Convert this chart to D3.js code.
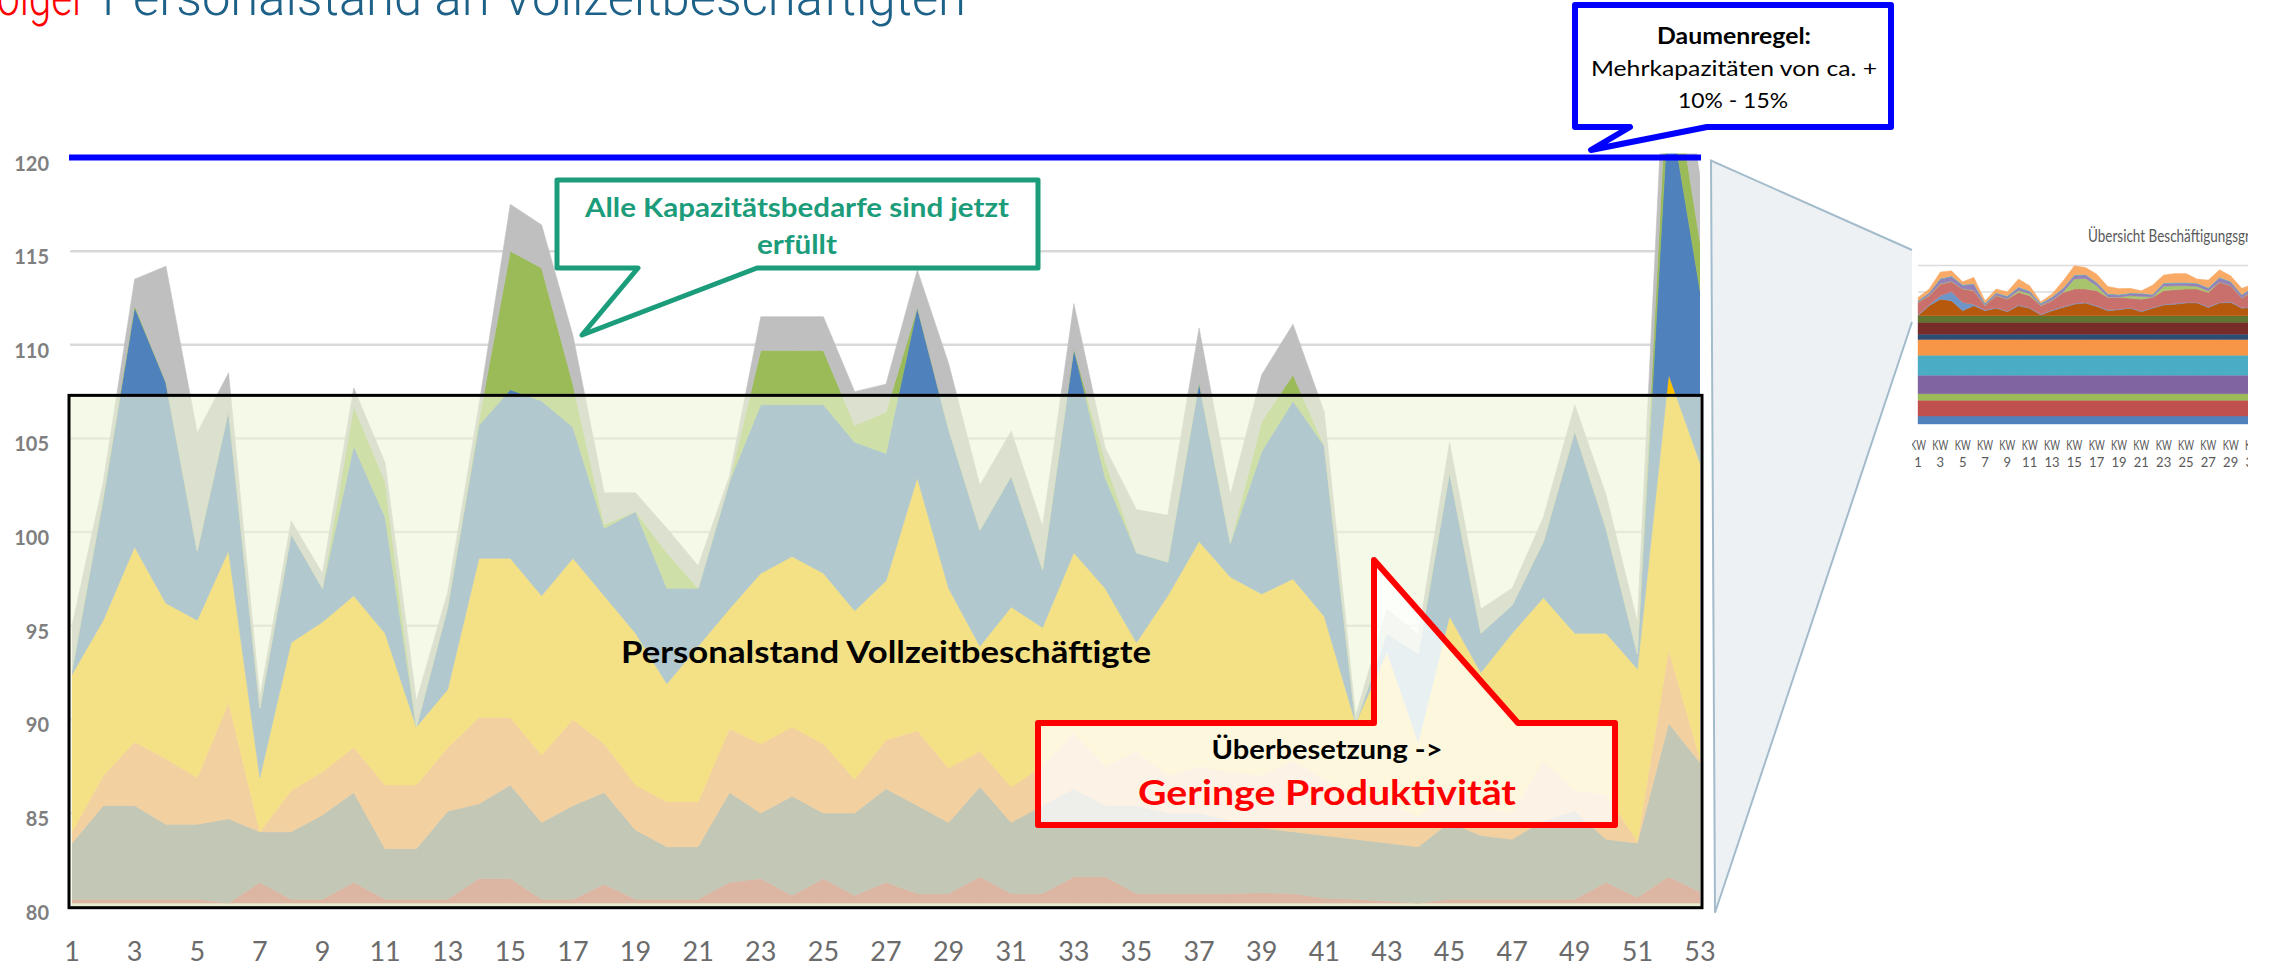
<!DOCTYPE html>
<html>
<head>
<meta charset="utf-8">
<script src="https://cdn.jsdelivr.net/npm/d3@7"></script>
<style>
  html, body { margin: 0; padding: 0; background: #fff; overflow: hidden; }
  svg { display: block; }
</style>
</head>
<body>
<svg id="chart"></svg>
<script>
// ---- main chart data ----
const weeks = [1,2,3,4,5,6,7,8,9,10,11,12,13,14,15,16,17,18,19,20,21,22,23,24,25,26,27,
  28,29,30,31,32,33,34,35,36,37,38,39,40,41,42,43,44,45,46,47,48,49,50,51,52,53];
const xTickWeeks = [1,3,5,7,9,11,13,15,17,19,21,23,25,27,29,31,33,35,37,39,41,43,45,47,49,51,53];
const yTicks = [80,85,90,95,100,105,110,115,120];
const gridValues = [85,90,95,100,105,110,115];

const sockel = [80.2,80.2,80.2,80.2,80.2,80.2,80.2,80.2,80.2,80.2,80.2,80.2,80.2,80.2,80.2,80.2,80.2,80.2,
  80.2,80.2,80.2,80.2,80.2,80.2,80.2,80.2,80.2,80.2,80.2,80.2,80.2,80.2,80.2,80.2,80.2,80.2,80.2,80.2,80.2,
  80.2,80.2,80.2,80.2,80.2,80.2,80.2,80.2,80.2,80.2,80.2,80.2,80.2,80.2];
const rot = [0.2,0.2,0.2,0.2,0.2,0.0,1.1,0.2,0.2,1.1, 0.2,0.2,0.2,1.3,1.3,0.2,0.2,1.0,0.2,0.2,
  0.2,1.1,1.3,0.4,1.3,0.4,1.1,0.5,0.5,1.4, 0.5,0.5,1.4,1.4,0.5,0.5,0.5,0.5,0.55,0.5,
  0.25,0.2,0.1,0.0,0.2,0.2,0.2,0.2,0.2,1.1, 0.3,1.4,0.6];
const grau = [3.0,5.0,5.0,4.0,4.0,4.5,2.7,3.6,4.5,4.8, 2.7,2.7,4.7,4.0,5.0,4.1,5.0,4.9,3.7,2.8,
  2.8,4.8,3.5,5.3,3.5,4.4,5.0,4.7,3.8,4.8, 3.8,4.7,4.7,3.8,4.7,4.3,4.3,3.9,3.45,3.3,
  3.35,3.2,3.1,3.0,4.1,3.4,3.2,4.2,4.7,2.3, 2.9,8.2,6.9];
const orange = [0.6,1.6,3.4,3.5,2.5,6.2,0.0,2.2,2.3,2.4, 3.4,3.4,3.4,4.6,3.6,3.6,4.6,2.6,2.4,2.4,
  2.4,3.4,3.7,3.7,3.7,1.8,2.6,4.0,2.9,1.9, 1.9,2.1,3.0,2.1,2.9,2.0,2.5,2.6,2.8,3.8,
  3.0,2.4,2.2,1.6,2.0,1.6,1.4,3.2,1.1,2.4, 0.1,3.9,0.2];
const gold = [8.4,8.3,10.4,8.3,8.4,8.1,2.9,7.9,8.0,8.1, 8.1,3.1,3.1,8.5,8.5,8.5,8.6,7.9,8.1,6.3,
  8.3,6.4,9.1,9.1,9.1,9.0,8.5,13.5,9.6,5.6, 9.6,7.4,9.6,9.5,5.8,9.6,12.0,10.4,9.7,9.7,
  8.7,3.8,8.0,4.0,9.0,7.1,9.6,8.7,8.4,8.6, 9.2,14.7,15.8];
const blau = [0.2,6.5,12.8,11.8,3.7,7.5,3.7,5.8,1.8,8.0, 6.2,0.0,4.4,7.1,9.0,10.4,7.0,3.6,6.5,5.1,
  3.1,6.8,9.0,8.1,9.0,9.0,6.8,9.1,8.5,6.2, 7.0,3.1,10.9,5.9,4.8,1.8,8.5,1.8,7.6,9.5,
  9.1,0.0,1.0,4.7,7.7,2.1,1.5,3.0,10.8,5.6, 0.8,14.6,9.2];
const gruen = [0,0.1,0.1,0,0,0,0,0,0,2.1, 1.9,0,0,0.3,7.4,7.1,2.3,0.2,0,1.9,
  0,0,2.9,2.9,2.9,0.9,2.2,0,0,0, 0,0,0,0.9,0,0,0,0,1.6,1.4,
  0,0,0,0,0,0,0,0,0,0, 0,3.0,2.6];
const hellgrau = [2.4,0.8,1.4,6.2,6.3,2.0,0.6,0.7,0.8,1.0, 1.0,1.4,0.8,0.8,2.5,2.3,2.6,1.7,1.0,1.3,
  1.2,0.3,1.8,1.8,1.8,1.8,1.5,2.0,3.5,2.4, 2.4,2.3,2.4,0.7,2.3,2.5,2.9,2.6,2.5,2.7,
  1.8,0.4,1.3,1.0,1.6,1.3,0.9,1.3,1.4,1.8, 1.7,4.0,3.5];

const seriesKeys = ["sockel","rot","grau","orange","gold","blau","gruen","hellgrau"];
const seriesColors = ["#ddd9c3","#c0504d","#7f7f7f","#f79646","#ffc000","#4f81bd","#9bbb59","#bfbfbf"];
const kapazitaetsGrenze = 120;
const boxTop = 107.3;

// ---- inset chart data ----
const insetWeeks = [1,2,3,4,5,6,7,8,9,10,11,12,13,14,15,16,17,18,19,20,21,22,23,24,25,26,27,28,29,30,31];
const insetTickWeeks = [1,3,5,7,9,11,13,15,17,19,21,23,25,27,29,31];
const insetFixedKeys = ["g1","g2","g3","g4","g5","g6","g7","g8","g9"];
const insetFixedValues = [6,12,5,14,15,12,4,9,5];
const insetFixedColors = ["#4f81bd","#c0504d","#9bbb59","#8064a2","#4bacc6","#f79646","#2c4d75","#772c2a","#5f7530"];
const insetBraun = [0,7.6,12.6,11.4,3.8,7.6,3.8,5.6,3.0,7.6,5.6,0.5,3.8,6.3,8.8,9.6,7.1,3.8,4.5,5.6,
  3.0,5.6,8.1,8.8,9.6,9.6,6.3,9.6,10.1,5.6,6.3];
const insetHellblau = [0.5,0.5,2.5,6.8,6.3,1.0,0.5,0.5,0.5,0.5,0.5,0.5,0.5,0.5,0.5,0.5,0.5,0.5,0.5,0.5,
  0.5,0.5,0.5,0.5,0.5,0.5,0.5,0.5,0.5,0.5,0.5];
const insetRosa = [9.6,7.1,8.8,7.6,10.1,10.4,3.3,9.1,9.1,9.6,9.1,6.6,7.1,10.9,10.9,10.1,11.4,9.6,8.8,7.1,
  9.1,7.8,10.4,10.4,10.1,10.1,10.9,15.2,12.1,7.1,12.1];
const insetHellgruen = [0.3,0.3,0.3,0.3,0.3,0.3,0.3,0.3,0.3,1.5,1.5,0.3,0.3,0.3,7.6,8.1,3.8,0.3,0.3,2.0,
  2.0,0.3,3.3,3.0,2.5,2.0,1.0,0.3,0.3,0.3,0.3];
const insetLila = [0.5,1.5,3.5,3.5,2.5,4.5,1.0,1.5,1.5,2.0,1.5,1.0,2.0,2.5,2.5,2.5,2.0,2.0,1.5,1.5,
  2.0,1.5,2.0,2.0,2.0,2.0,2.0,3.0,2.5,2.0,2.0];
const insetCyan = [0.5,0.5,0.5,0.5,0.5,0.5,0.5,0.5,0.5,0.5,0.5,0.5,0.5,0.5,0.5,0.5,0.5,0.5,0.5,0.5,
  0.5,0.5,0.5,0.5,0.5,0.5,0.5,0.5,0.5,0.5,0.5];
const insetHellorange = [2.5,2.8,5.0,4.0,2.3,4.8,2.0,2.8,3.3,6.1,4.1,1.2,2.3,5.5,7.1,5.3,6.3,5.5,4.5,3.6,
  1.8,7.0,6.1,6.9,6.9,3.1,5.8,5.8,4.3,4.8,2.3];
const insetVarKeys = ["braun","hellblau","rosa","hellgruen","lila","cyan","hellorange"];
const insetVarColors = ["#b7590c","#6e95c8","#c9706d","#a8c46c","#9780b7","#4bacc6","#f8aa66"];
const insetGridValues = [20,40,60,80,100,120];

// ---- setup ----
const W = 2272, H = 966;
const svg = d3.select("#chart").attr("width", W).attr("height", H);
const defs = svg.append("defs");

const x = d3.scaleLinear().domain([1, 53]).range([72, 1700]);
const y = d3.scaleLinear().domain([80, 120]).range([906.7, 157.5]);

defs.append("clipPath").attr("id", "plotClip")
  .append("rect")
  .attr("x", x(1)).attr("y", y(120) - 4)
  .attr("width", x(53) - x(1)).attr("height", y(80) - y(120) + 4);

// title (cut off at the top in the original)
const title = svg.append("g")
  .attr("font-family", "Roboto, 'DejaVu Sans', sans-serif")
  .attr("font-weight", 300)
  .attr("font-size", 52);
title.append("text")
  .attr("x", -3).attr("y", 15)
  .attr("fill", "#ff0000")
  .attr("textLength", 89).attr("lengthAdjust", "spacingAndGlyphs")
  .text("olger");
title.append("text")
  .attr("x", 102).attr("y", 15)
  .attr("fill", "#1d6188")
  .attr("textLength", 864).attr("lengthAdjust", "spacingAndGlyphs")
  .text("Personalstand an Vollzeitbeschäftigten");

// gridlines
svg.append("g").selectAll("line")
  .data(gridValues)
  .join("line")
  .attr("x1", x(1) - 2).attr("x2", x(53))
  .attr("y1", d => y(d)).attr("y2", d => y(d))
  .attr("stroke", "#d9d9d9").attr("stroke-width", 2.5);

// stacked areas
const table = weeks.map((w, i) => ({
  week: w, sockel: sockel[i], rot: rot[i], grau: grau[i], orange: orange[i],
  gold: gold[i], blau: blau[i], gruen: gruen[i], hellgrau: hellgrau[i]
}));
const stacked = d3.stack().keys(seriesKeys)(table);
const area = d3.area()
  .x(d => x(d.data.week))
  .y0(d => y(d[0]))
  .y1(d => y(d[1]));

svg.append("g").attr("clip-path", "url(#plotClip)")
  .selectAll("path")
  .data(stacked)
  .join("path")
  .attr("d", area)
  .attr("fill", (d, i) => seriesColors[i])
  .attr("stroke", (d, i) => seriesColors[i])
  .attr("stroke-width", 0.6);

// pale box over the region up to 107.3
svg.append("rect")
  .attr("x", x(1) - 3).attr("y", y(boxTop))
  .attr("width", x(53) - x(1) + 5).attr("height", y(80) - y(boxTop) + 1)
  .attr("fill", "rgb(239,245,217)").attr("fill-opacity", 0.61)
  .attr("stroke", "#000").attr("stroke-width", 3);

// capacity line
svg.append("line")
  .attr("x1", x(1) - 3).attr("x2", x(53) + 1)
  .attr("y1", y(kapazitaetsGrenze)).attr("y2", y(kapazitaetsGrenze))
  .attr("stroke", "#0000ff").attr("stroke-width", 6);

// axes labels
svg.append("g")
  .attr("font-family", "Lato, 'Open Sans', sans-serif")
  .attr("font-weight", 700).attr("font-size", 20).attr("fill", "#7f7f7f")
  .attr("text-anchor", "end")
  .selectAll("text").data(yTicks).join("text")
  .attr("x", 49).attr("y", d => y(d) + 13)
  .text(d => d);

svg.append("g")
  .attr("font-family", "Lato, 'Open Sans', sans-serif")
  .attr("font-size", 27).attr("fill", "#6b6b6b")
  .attr("text-anchor", "middle")
  .selectAll("text").data(xTickWeeks).join("text")
  .attr("x", d => x(d)).attr("y", 961)
  .text(d => d);

// series label
svg.append("text")
  .attr("x", 886).attr("y", 663)
  .attr("text-anchor", "middle")
  .attr("font-family", "Lato, sans-serif").attr("font-weight", 700).attr("font-size", 30)
  .attr("textLength", 530).attr("lengthAdjust", "spacingAndGlyphs")
  .attr("fill", "#000")
  .text("Personalstand Vollzeitbeschäftigte");

// ---- callouts ----
const font = "Lato, 'Open Sans', sans-serif";

// green
svg.append("path")
  .attr("d", "M557,180 H1038 V268 H757 L582,335 L638,268 H557 Z")
  .attr("fill", "#fff").attr("stroke", "#1b9c7a").attr("stroke-width", 5)
  .attr("stroke-linejoin", "round");
const greenText = svg.append("g")
  .attr("font-family", font).attr("font-weight", 700).attr("font-size", 26)
  .attr("fill", "#1b9c7a").attr("text-anchor", "middle");
greenText.append("text").attr("x", 797).attr("y", 217)
  .attr("textLength", 424).attr("lengthAdjust", "spacingAndGlyphs")
  .text("Alle Kapazitätsbedarfe sind jetzt");
greenText.append("text").attr("x", 797).attr("y", 254)
  .attr("textLength", 80).attr("lengthAdjust", "spacingAndGlyphs")
  .text("erfüllt");

// blue
svg.append("path")
  .attr("d", "M1575,5 H1891 V127 H1707 L1591,150 L1630,127 H1575 Z")
  .attr("fill", "#fff").attr("stroke", "#0000ff").attr("stroke-width", 6)
  .attr("stroke-linejoin", "round");
const blueText = svg.append("g")
  .attr("font-family", font).attr("font-size", 22)
  .attr("fill", "#000").attr("text-anchor", "middle");
blueText.append("text").attr("x", 1734).attr("y", 44).attr("font-weight", 700)
  .attr("textLength", 154).attr("lengthAdjust", "spacingAndGlyphs")
  .text("Daumenregel:");
blueText.append("text").attr("x", 1734).attr("y", 76)
  .attr("textLength", 286).attr("lengthAdjust", "spacingAndGlyphs")
  .text("Mehrkapazitäten von ca. +");
blueText.append("text").attr("x", 1733).attr("y", 108)
  .attr("textLength", 110).attr("lengthAdjust", "spacingAndGlyphs")
  .text("10% - 15%");

// red
svg.append("path")
  .attr("d", "M1038,723 H1374 V560 L1518,723 H1615 V825 H1038 Z")
  .attr("fill", "#fff").attr("fill-opacity", 0.72)
  .attr("stroke", "#ff0000").attr("stroke-width", 6)
  .attr("stroke-linejoin", "round");
svg.append("text").attr("x", 1327).attr("y", 759)
  .attr("text-anchor", "middle")
  .attr("font-family", font).attr("font-weight", 700).attr("font-size", 26)
  .attr("textLength", 231).attr("lengthAdjust", "spacingAndGlyphs")
  .attr("fill", "#000")
  .text("Überbesetzung ->");
svg.append("text").attr("x", 1327).attr("y", 805)
  .attr("text-anchor", "middle")
  .attr("font-family", font).attr("font-weight", 700).attr("font-size", 34)
  .attr("textLength", 378).attr("lengthAdjust", "spacingAndGlyphs")
  .attr("fill", "#ff0000")
  .text("Geringe Produktivität");

// ---- zoom trapezoid ----
const trapLeft = x(53) + 11;
const trapRight = 1912;
svg.append("path")
  .attr("d", `M${trapLeft},${y(120) + 3} L${trapRight},250 L${trapRight},322 L${trapLeft + 4},${y(80) + 6} Z`)
  .attr("fill", "#edf1f4").attr("stroke", "none");
svg.append("path")
  .attr("d", `M${trapRight},250 L${trapLeft},${y(120) + 3} L${trapLeft + 4},${y(80) + 6} L${trapRight},322`)
  .attr("fill", "none").attr("stroke", "#a3bccb").attr("stroke-width", 2);

// ---- inset chart ----
const ix = d3.scaleLinear().domain([1, 31]).range([1918, 2253]);
const iy = d3.scaleLinear().domain([0, 120]).range([424, 265.6]);

defs.append("clipPath").attr("id", "insetClip")
  .append("rect").attr("x", 1912).attr("y", 200).attr("width", 2248 - 1912).attr("height", 290);

const inset = svg.append("g").attr("clip-path", "url(#insetClip)");

inset.append("g").selectAll("line").data(insetGridValues).join("line")
  .attr("x1", ix(1)).attr("x2", ix(31))
  .attr("y1", d => iy(d)).attr("y2", d => iy(d))
  .attr("stroke", "#dcdcdc").attr("stroke-width", 1.5);

const insetTable = insetWeeks.map((w, i) => {
  const row = { week: w };
  insetFixedKeys.forEach((k, j) => { row[k] = insetFixedValues[j]; });
  row.braun = insetBraun[i];
  row.hellblau = insetHellblau[i];
  row.rosa = insetRosa[i];
  row.hellgruen = insetHellgruen[i];
  row.lila = insetLila[i];
  row.cyan = insetCyan[i];
  row.hellorange = insetHellorange[i];
  return row;
});
const insetKeys = insetFixedKeys.concat(insetVarKeys);
const insetColors = insetFixedColors.concat(insetVarColors);
const insetStack = d3.stack().keys(insetKeys)(insetTable);
const insetArea = d3.area()
  .x(d => ix(d.data.week))
  .y0(d => iy(d[0]))
  .y1(d => iy(d[1]));

inset.append("g").selectAll("path").data(insetStack).join("path")
  .attr("d", insetArea)
  .attr("fill", (d, i) => insetColors[i])
  .attr("stroke", (d, i) => insetColors[i])
  .attr("stroke-width", 0.4);

inset.append("text")
  .attr("x", 2088).attr("y", 242)
  .attr("font-family", font).attr("font-size", 18).attr("fill", "#595959")
  .attr("textLength", 162).attr("lengthAdjust", "spacingAndGlyphs")
  .text("Übersicht Beschäftigungsgr");

const insetLabels = inset.append("g")
  .attr("font-family", font).attr("font-size", 13).attr("fill", "#595959")
  .attr("text-anchor", "middle");
insetLabels.selectAll("text.kw").data(insetTickWeeks).join("text")
  .attr("class", "kw")
  .attr("x", d => ix(d)).attr("y", 450)
  .attr("textLength", 16).attr("lengthAdjust", "spacingAndGlyphs")
  .text("KW");
insetLabels.selectAll("text.nr").data(insetTickWeeks).join("text")
  .attr("class", "nr")
  .attr("x", d => ix(d)).attr("y", 467)
  .text(d => d);
</script>
</body>
</html>
